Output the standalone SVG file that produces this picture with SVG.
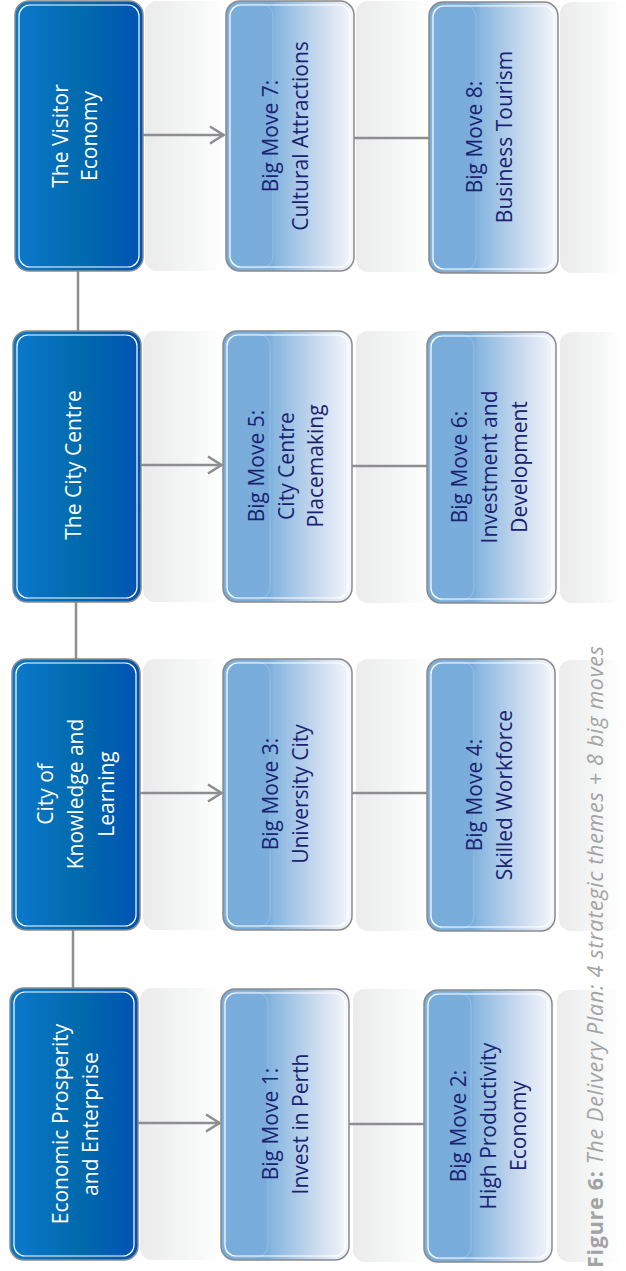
<svg xmlns="http://www.w3.org/2000/svg" width="626" height="1271" viewBox="0 0 626 1271">
<defs>
<linearGradient id="gTheme" x1="0" y1="0" x2="1" y2="0">
<stop offset="0" stop-color="#0b79cc"/>
<stop offset="0.55" stop-color="#0069ac"/>
<stop offset="1" stop-color="#0053b3"/>
</linearGradient>
<linearGradient id="gMove" x1="0" y1="0" x2="1" y2="0">
<stop offset="0" stop-color="#78acdb"/>
<stop offset="0.36" stop-color="#7aaddc"/>
<stop offset="0.4" stop-color="#88b7e0"/>
<stop offset="0.75" stop-color="#cddcf0"/>
<stop offset="1" stop-color="#f5f7fd"/>
</linearGradient>
<linearGradient id="gBand" x1="0" y1="0" x2="1" y2="0">
<stop offset="0" stop-color="#ebebeb"/>
<stop offset="0.5" stop-color="#f4f5f5"/>
<stop offset="0.9" stop-color="#ffffff"/>
</linearGradient>
<marker id="arr" markerUnits="userSpaceOnUse" markerWidth="20" markerHeight="22" refX="16" refY="10" orient="auto">
<path d="M2,1.5 L15.5,10 L2,18.5" fill="none" stroke="#8e8e92" stroke-width="2.6"/>
</marker>
<style>
.theme{fill:url(#gTheme);stroke:#8a8a8a;stroke-width:1.5}
.move{fill:url(#gMove);stroke:#8a8a8a;stroke-width:1.5}
.inner{fill:none;stroke:#ffffff;stroke-width:1.2}
.gloss{fill:none;stroke:#ffffff;stroke-opacity:0.22;stroke-width:1}
.band{fill:url(#gBand)}
.tt{font-family:"Open Sans","Noto Sans","Liberation Sans",sans-serif;font-size:21px;fill:#ffffff;text-anchor:middle}
.mt{font-family:"Open Sans","Noto Sans","Liberation Sans",sans-serif;font-size:21px;fill:#1b2270;text-anchor:middle}
.cap{font-family:"Open Sans","Noto Sans","Liberation Sans",sans-serif;font-size:21.5px;fill:#a3a3a3}
.con{fill:none;stroke:#8e8e92;stroke-width:2.5}
</style>
</defs>
<rect width="626" height="1271" fill="#ffffff"/>
<g id="bands">
<rect class="band" x="145" y="1" width="90" height="270" rx="12"/>
<rect class="band" x="356" y="1" width="80" height="271" rx="12"/>
<rect class="band" x="560" y="2" width="70" height="271" rx="12"/>
<rect class="band" x="143" y="331" width="90" height="271" rx="12"/>
<rect class="band" x="356" y="331" width="80" height="272" rx="12"/>
<rect class="band" x="560" y="332" width="70" height="271" rx="12"/>
<rect class="band" x="143" y="659" width="90" height="271" rx="12"/>
<rect class="band" x="356" y="659" width="80" height="272" rx="12"/>
<rect class="band" x="559" y="660" width="70" height="271" rx="12"/>
<rect class="band" x="140" y="988" width="90" height="272" rx="12"/>
<rect class="band" x="353" y="989" width="80" height="273" rx="12"/>
<rect class="band" x="557" y="990" width="70" height="272" rx="12"/>
</g>
<g id="connectors">
<line class="con" x1="78" y1="271" x2="78" y2="331"/>
<line class="con" x1="76" y1="602" x2="76" y2="659"/>
<line class="con" x1="73" y1="930" x2="73" y2="988"/>
<line class="con" x1="143" y1="135" x2="224" y2="135" marker-end="url(#arr)"/>
<line class="con" x1="141" y1="465" x2="222" y2="465" marker-end="url(#arr)"/>
<line class="con" x1="140" y1="793" x2="222" y2="793" marker-end="url(#arr)"/>
<line class="con" x1="138" y1="1123" x2="220" y2="1123" marker-end="url(#arr)"/>
<line class="con" x1="354" y1="138" x2="429" y2="138"/>
<line class="con" x1="352" y1="466" x2="427" y2="466"/>
<line class="con" x1="352" y1="793" x2="427" y2="793"/>
<line class="con" x1="349" y1="1124" x2="424" y2="1124"/>
</g>
<g id="theme-visitor">
<rect class="theme" x="15" y="1" width="128" height="270" rx="14"/>
<rect class="inner" x="19" y="5" width="120" height="262" rx="11"/>
<text class="tt" transform="translate(0,136) rotate(-90)"><tspan x="0" y="68">The Visitor</tspan><tspan x="0" y="97">Economy</tspan></text>
</g>
<g id="move7">
<rect class="move" x="226" y="1" width="128" height="270" rx="14"/>
<rect class="gloss" x="229" y="4" width="44" height="264" rx="12"/>
<rect class="inner" x="230" y="5" width="120" height="262" rx="11"/>
<text class="mt" transform="translate(0,136) rotate(-90)"><tspan x="0" y="278">Big Move 7:</tspan><tspan x="0" y="308">Cultural Attractions</tspan></text>
</g>
<g id="move8">
<rect class="move" x="429" y="2" width="129" height="271" rx="14"/>
<rect class="gloss" x="432" y="5" width="44" height="265" rx="12"/>
<rect class="inner" x="433" y="6" width="121" height="263" rx="11"/>
<text class="mt" transform="translate(0,137) rotate(-90)"><tspan x="0" y="482">Big Move 8:</tspan><tspan x="0" y="512">Business Tourism</tspan></text>
</g>
<g id="theme-citycentre">
<rect class="theme" x="13" y="331" width="128" height="271" rx="14"/>
<rect class="inner" x="17" y="335" width="120" height="263" rx="11"/>
<text class="tt" transform="translate(0,465) rotate(-90)"><tspan x="0" y="81">The City Centre</tspan></text>
</g>
<g id="move5">
<rect class="move" x="223" y="331" width="129" height="271" rx="14"/>
<rect class="gloss" x="226" y="334" width="44" height="265" rx="12"/>
<rect class="inner" x="227" y="335" width="121" height="263" rx="11"/>
<text class="mt" transform="translate(0,466) rotate(-90)"><tspan x="0" y="264">Big Move 5:</tspan><tspan x="0" y="293.5">City Centre</tspan><tspan x="0" y="323">Placemaking</tspan></text>
</g>
<g id="move6">
<rect class="move" x="427" y="332" width="129" height="271" rx="14"/>
<rect class="gloss" x="430" y="335" width="44" height="265" rx="12"/>
<rect class="inner" x="431" y="336" width="121" height="263" rx="11"/>
<text class="mt" transform="translate(0,467) rotate(-90)"><tspan x="0" y="467">Big Move 6:</tspan><tspan x="0" y="497">Investment and</tspan><tspan x="0" y="527">Development</tspan></text>
</g>
<g id="theme-knowledge">
<rect class="theme" x="12" y="659" width="128" height="271" rx="14"/>
<rect class="inner" x="16" y="663" width="120" height="263" rx="11"/>
<text class="tt" transform="translate(0,794) rotate(-90)"><tspan x="0" y="53">City of</tspan><tspan x="0" y="83">Knowledge and</tspan><tspan x="0" y="114">Learning</tspan></text>
</g>
<g id="move3">
<rect class="move" x="223" y="659" width="129" height="271" rx="14"/>
<rect class="gloss" x="226" y="662" width="44" height="265" rx="12"/>
<rect class="inner" x="227" y="663" width="121" height="263" rx="11"/>
<text class="mt" transform="translate(0,794) rotate(-90)"><tspan x="0" y="278">Big Move 3:</tspan><tspan x="0" y="308">University City</tspan></text>
</g>
<g id="move4">
<rect class="move" x="427" y="659" width="128" height="272" rx="14"/>
<rect class="gloss" x="430" y="662" width="44" height="266" rx="12"/>
<rect class="inner" x="431" y="663" width="120" height="264" rx="11"/>
<text class="mt" transform="translate(0,795) rotate(-90)"><tspan x="0" y="482">Big Move 4:</tspan><tspan x="0" y="512">Skilled Workforce</tspan></text>
</g>
<g id="theme-economic">
<rect class="theme" x="10" y="988" width="128" height="272" rx="14"/>
<rect class="inner" x="14" y="992" width="120" height="264" rx="11"/>
<text class="tt" transform="translate(0,1124) rotate(-90)"><tspan x="0" y="68">Economic Prosperity</tspan><tspan x="0" y="98">and Enterprise</tspan></text>
</g>
<g id="move1">
<rect class="move" x="221" y="989" width="128" height="271" rx="14"/>
<rect class="gloss" x="224" y="992" width="44" height="265" rx="12"/>
<rect class="inner" x="225" y="993" width="120" height="263" rx="11"/>
<text class="mt" transform="translate(0,1124) rotate(-90)"><tspan x="0" y="278">Big Move 1:</tspan><tspan x="0" y="308">Invest in Perth</tspan></text>
</g>
<g id="move2">
<rect class="move" x="424" y="990" width="128" height="272" rx="14"/>
<rect class="gloss" x="427" y="993" width="44" height="266" rx="12"/>
<rect class="inner" x="428" y="994" width="120" height="264" rx="11"/>
<text class="mt" transform="translate(0,1126) rotate(-90)"><tspan x="0" y="466">Big Move 2:</tspan><tspan x="0" y="496">High Productivity</tspan><tspan x="0" y="526">Economy</tspan></text>
</g>
<g id="caption">
<text class="cap" transform="translate(0,1268) rotate(-90)" x="0" y="603" textLength="622" lengthAdjust="spacing"><tspan font-weight="bold">Figure 6:</tspan><tspan font-style="italic"> The Delivery Plan: 4 strategic themes + 8 big moves</tspan></text>
</g>
</svg>
